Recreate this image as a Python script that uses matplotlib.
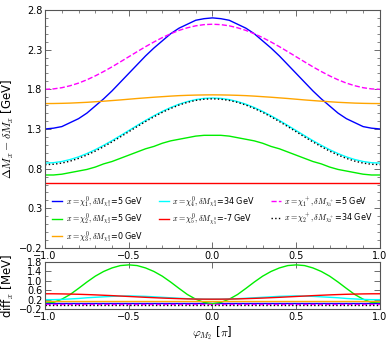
import numpy as np
import matplotlib
matplotlib.use('Agg')
import matplotlib.pyplot as plt
from matplotlib.ticker import MultipleLocator

plt.rcParams['mathtext.fontset'] = 'cm'
plt.rcParams['font.family'] = 'DejaVu Sans'

# phase in units of pi
phi = np.round(np.arange(-1.0, 1.0001, 0.05), 2)

def sym(half):
    # half holds the values read for phi = -1 ... 0, the curves are symmetric
    return np.array(half + half[-2::-1])

# top panel: Delta M_x - delta M_x [GeV]
top_blue = sym([1.30, 1.31, 1.33, 1.38, 1.43, 1.50, 1.59, 1.68, 1.78, 1.89, 2.00,
                2.11, 2.22, 2.32, 2.41, 2.50, 2.57, 2.62, 2.67, 2.69, 2.70])
top_green = sym([0.72, 0.72, 0.73, 0.75, 0.77, 0.79, 0.82, 0.86, 0.89, 0.93, 0.97,
                 1.01, 1.05, 1.08, 1.12, 1.15, 1.17, 1.19, 1.21, 1.22, 1.22])
top_orange = sym([1.62, 1.621, 1.623, 1.626, 1.631, 1.636, 1.643, 1.650, 1.658, 1.666, 1.675,
                  1.684, 1.692, 1.700, 1.707, 1.714, 1.720, 1.724, 1.727, 1.729, 1.730])
top_cyan = sym([0.87, 0.875, 0.89, 0.915, 0.948, 0.99, 1.039, 1.094, 1.153, 1.216, 1.28,
                1.344, 1.407, 1.466, 1.521, 1.57, 1.612, 1.645, 1.67, 1.685, 1.69])
top_red = sym([0.615] * 21)
top_magenta = sym([1.80, 1.805, 1.82, 1.845, 1.878, 1.92, 1.969, 2.024, 2.083, 2.146, 2.21,
                   2.274, 2.337, 2.396, 2.451, 2.50, 2.542, 2.575, 2.60, 2.615, 2.62])
top_black = sym([0.85, 0.855, 0.87, 0.895, 0.929, 0.972, 1.021, 1.077, 1.137, 1.20, 1.265,
                 1.33, 1.393, 1.453, 1.509, 1.558, 1.601, 1.635, 1.66, 1.675, 1.68])

# bottom panel: diff_x [MeV]
bot_blue = sym([0.07] * 21)
bot_green = sym([0.10, 0.08, 0.22, 0.42, 0.68, 0.95, 1.20, 1.40, 1.55, 1.65, 1.68,
                 1.65, 1.55, 1.40, 1.20, 0.95, 0.68, 0.42, 0.22, 0.08, 0.03])
bot_orange = sym([0.13] * 21)
bot_cyan = sym([0.20, 0.20, 0.21, 0.23, 0.25, 0.28, 0.30, 0.32, 0.34, 0.35, 0.36,
                0.35, 0.34, 0.32, 0.30, 0.28, 0.26, 0.24, 0.23, 0.22, 0.22])
bot_red = sym([0.45, 0.449, 0.444, 0.437, 0.428, 0.416, 0.403, 0.387, 0.371, 0.353, 0.335,
               0.317, 0.299, 0.283, 0.267, 0.254, 0.242, 0.232, 0.224, 0.221, 0.22])
bot_magenta = sym([0.0] * 21)
bot_black = sym([-0.02] * 21)

labels = [r'$x=\chi_1^0, \delta M_{\chi_1^0}$=5 GeV',
          r'$x=\chi_2^0, \delta M_{\chi_2^0}$=5 GeV',
          r'$x=\chi_3^0, \delta M_{\chi_3^0}$=0 GeV',
          r'$x=\chi_4^0, \delta M_{\chi_4^0}$=34 GeV',
          r'$x=\chi_5^0, \delta M_{\chi_5^0}$=-7 GeV',
          r'$x=\chi_1^+, \delta M_{\chi_1^+}$=5 GeV',
          r'$x=\chi_2^+, \delta M_{\chi_2^+}$=34 GeV']
colors = ['#0000ff', '#00ee00', '#ffa500', '#00ffff', '#ff0000', '#ff00ff', 'black']
styles = ['-', '-', '-', '-', '-', '--', ':']

top = [top_blue, top_green, top_orange, top_cyan, top_red, top_magenta, top_black]
bot = [bot_blue, bot_green, bot_orange, bot_cyan, bot_red, bot_magenta, bot_black]

fig = plt.figure(figsize=(3.92, 3.43), dpi=100)
ax1 = fig.add_axes([0.115, 0.277, 0.854, 0.694])
ax2 = fig.add_axes([0.115, 0.099, 0.854, 0.137])

for y, c, ls, lab in zip(top, colors, styles, labels):
    ax1.plot(phi, y, color=c, ls=ls, lw=1.0, label=lab)
for y, c, ls in zip(bot, colors, styles):
    ax2.plot(phi, y, color=c, ls=ls, lw=1.0)

ax1.set_xlim(-1, 1)
ax1.set_ylim(-0.2, 2.8)
ax1.set_yticks([-0.2, 0.3, 0.8, 1.3, 1.8, 2.3, 2.8])
ax1.set_xticks([-1.0, -0.5, 0.0, 0.5, 1.0])
ax1.xaxis.set_minor_locator(MultipleLocator(0.1))
ax1.yaxis.set_minor_locator(MultipleLocator(0.1))
ax1.set_ylabel(r'$\Delta M_x - \delta M_x$ [GeV]', fontsize=8.5, labelpad=2)

ax2.set_xlim(-1, 1)
ax2.set_ylim(-0.2, 1.8)
ax2.set_yticks([-0.2, 0.2, 0.6, 1.0, 1.4, 1.8])
ax2.set_xticks([-1.0, -0.5, 0.0, 0.5, 1.0])
ax2.set_ylabel(r'diff$_x$ [MeV]', fontsize=8.5, labelpad=2)
ax2.set_xlabel(r'$\varphi_{M_2}$ [$\pi$]', fontsize=8.5, labelpad=2)

for ax in (ax1, ax2):
    ax.tick_params(which='both', direction='in', top=True, right=True,
                   labelsize=7, pad=2, color='#555555')
    ax.tick_params(which='major', length=4, width=0.6)
    ax.tick_params(which='minor', length=2, width=0.5)
    for s in ax.spines.values():
        s.set_color('#555555')
        s.set_linewidth(0.8)

ax1.legend(ncol=3, loc='upper left', bbox_to_anchor=(0.0, 0.257), frameon=False,
           fontsize=5.8, handlelength=1.2, handletextpad=0.45, columnspacing=2.0,
           labelspacing=0.2, borderpad=0.4)

fig.savefig('out.png', dpi=100)
